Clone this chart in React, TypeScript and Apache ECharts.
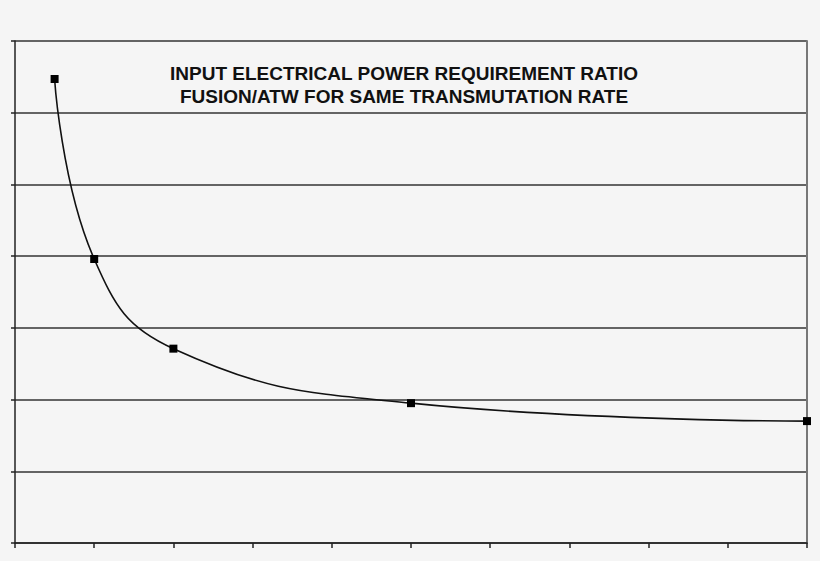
import React, { useEffect, useRef } from "react";
import * as echarts from "echarts";

const xValues = [0.5, 1, 2, 5, 10];
const ratioValues = [6.47, 3.96, 2.71, 1.95, 1.7];
const titleLines = [
  "INPUT ELECTRICAL POWER REQUIREMENT RATIO",
  "FUSION/ATW FOR SAME TRANSMUTATION RATE",
];

export default function App() {
  const ref = useRef<HTMLDivElement>(null);
  useEffect(() => {
    if (!ref.current) return;
    const chart = echarts.init(ref.current, null, { renderer: "svg" });
    chart.setOption({
      animation: false,
      backgroundColor: "#f5f5f5",
      title: {
        text: titleLines.join("\n"),
        left: 399,
        top: 57,
        textAlign: "center",
        textStyle: {
          fontFamily: "Liberation Sans, Arial, sans-serif",
          fontWeight: "bold",
          fontSize: 19,
          lineHeight: 23,
          color: "#111",
        },
      },
      grid: { left: 15, right: 13, top: 41, bottom: 18, containLabel: false },
      xAxis: {
        type: "value",
        min: 0,
        max: 10,
        interval: 1,
        axisLine: { show: true, onZero: false, lineStyle: { color: "#222", width: 1.5 } },
        axisTick: { show: true, length: 5, lineStyle: { color: "#222", width: 1.5 } },
        axisLabel: { show: false },
        splitLine: { show: false },
      },
      yAxis: [
        {
          type: "value",
          min: 0,
          max: 7,
          interval: 1,
          axisLine: { show: true, onZero: false, lineStyle: { color: "#222", width: 1.5 } },
          axisTick: { show: true, length: 4, lineStyle: { color: "#222", width: 1.5 } },
          axisLabel: { show: false },
          splitLine: { show: true, lineStyle: { color: "#333", width: 1.5 } },
        },
        {
          type: "value",
          position: "right",
          min: 0,
          max: 7,
          interval: 1,
          axisLine: { show: true, onZero: false, lineStyle: { color: "#777", width: 2 } },
          axisTick: { show: false },
          axisLabel: { show: false },
          splitLine: { show: false },
        },
      ],
      series: [
        {
          type: "line",
          data: xValues.map((x, i) => [x, ratioValues[i]]),
          smooth: 0.45,
          symbol: "rect",
          symbolSize: 8,
          itemStyle: { color: "#000" },
          lineStyle: { color: "#111", width: 1.6 },
        },
      ],
    });
    return () => chart.dispose();
  }, []);
  return (
    <div
      ref={ref}
      style={{ position: "fixed", left: 0, top: 0, width: 820, height: 561 }}
    />
  );
}
